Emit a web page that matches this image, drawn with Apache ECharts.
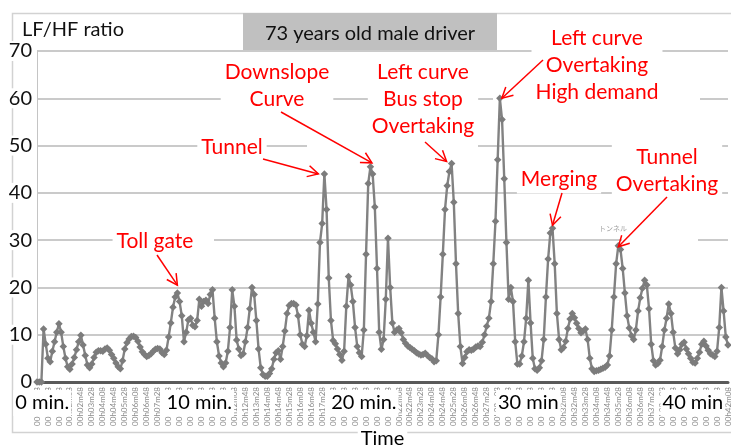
<!DOCTYPE html>
<html><head><meta charset="utf-8">
<script src="https://cdn.jsdelivr.net/npm/echarts@6/dist/echarts.min.js"></script>
<style>html,body{margin:0;padding:0;background:#fff}#c{width:731px;height:446px}</style>
</head><body><div id="c"></div>
<script>
// sampling of the time axis (seconds)
const startSec = 8;
const stepSec = 8;

// LF/HF ratio values, one per 8 s sample
const lfhf = [
  0,0,0,11.2,8.0,5.0,4.3,6.5,8.5,10.5,
  12.3,10.5,7.5,5.0,3.2,2.7,3.8,5.2,6.8,8.5,
  9.9,7.8,5.6,3.6,3.0,3.8,5.2,6.3,6.6,6.6,
  6.5,7.0,7.2,6.7,5.8,5.0,4.0,3.2,2.8,4.5,
  7.0,8.3,9.1,9.6,9.7,9.4,8.6,7.4,6.4,5.8,
  5.4,5.6,6.0,6.5,6.9,7.1,7.0,6.2,5.8,6.7,
  9.5,12.5,15.8,18.0,18.8,17.0,14.0,8.5,10.5,13.1,
  13.5,12.0,11.7,13.0,17.5,16.0,17.0,17.3,16.6,18.5,
  19.5,13.5,8.5,5.5,4.0,3.2,4.0,6.5,11.5,19.5,
  16.0,8.9,7.0,5.6,6.0,8.5,11.5,15.5,20.0,18.5,
  13.0,7.0,3.0,1.6,1.2,1.2,1.8,2.8,4.8,6.2,
  6.6,4.8,7.5,10.8,14.5,16.2,16.6,16.6,16.3,14.0,
  10.0,8.0,7.5,9.8,15.2,12.4,10.5,8.5,16.5,29.5,
  33.5,44.0,36.5,22.0,13.0,8.8,8.1,7.0,5.8,4.6,
  6.5,16.0,22.3,20.5,17.0,11.5,7.5,6.2,5.4,11.0,
  27.0,42.0,45.5,44.0,37.0,24.0,10.5,6.9,9.0,17.5,
  30.4,20.0,12.5,10.5,11.0,11.3,10.4,9.0,8.2,7.6,
  7.3,6.9,6.6,6.2,5.9,5.7,5.8,6.1,5.6,5.2,
  4.9,4.3,4.5,10.0,18.0,27.0,36.5,41.5,44.5,46.2,
  38.0,25.0,14.5,7.5,3.9,5.2,6.4,6.8,6.7,6.9,
  7.4,7.6,7.5,8.4,10.0,11.8,13.5,17.0,25.0,34.0,
  47.0,60.0,55.5,43.0,29.5,17.5,20.0,17.0,8.5,3.8,
  3.8,5.5,8.5,13.5,21.5,12.5,5.0,2.8,2.5,3.0,
  4.5,9.0,18.0,26.0,31.5,32.5,25.0,14.5,9.0,6.8,
  7.3,8.6,11.3,13.3,14.5,13.6,12.4,11.3,10.4,10.8,
  11.2,9.0,5.0,2.8,2.2,2.4,2.5,2.7,2.9,3.1,
  3.6,5.5,11.0,18.0,25.0,28.8,28.0,24.0,18.8,14.0,
  11.4,9.8,9.0,11.0,15.0,17.8,19.8,21.5,20.5,15.5,
  8.0,4.5,3.6,3.9,4.6,7.5,11.0,13.5,16.5,14.5,
  10.5,7.2,6.0,6.8,8.0,8.4,7.0,6.0,5.0,4.2,
  4.0,5.0,6.3,8.0,8.6,7.6,6.7,6.0,5.7,5.4,
  6.5,11.5,20.0,15.0,9.5,7.8
];

// y-axis ticks
const yMin = 0, yMax = 70, yStep = 10;

// big minute tick labels on the time axis
const minuteTickValues = [0.45, 10, 20, 30, 40];
const minuteTickLabels = ['0 min.', '10 min.', '20 min.', '30 min', '40 min'];

// annotations: text lines and the sample index they point at
const annotLines = [
  ['Toll gate'],
  ['Tunnel'],
  ['Downslope', 'Curve'],
  ['Left curve', 'Bus stop', 'Overtaking'],
  ['Left curve', 'Overtaking', 'High demand'],
  ['Merging'],
  ['Tunnel', 'Overtaking']
];
const annotIndex = [64, 131, 152, 189, 211, 235, 265];

const titleText = '73 years old male driver';
const yTitle = 'LF/HF ratio';
const xTitle = 'Time';

// ---------- layout (pixels) ----------
const annotTextPos = [[155,241],[232,147],[277,86],[423,99],[597,65],[559,179],[667,171]];
const annotArrowStart = [[157,255],[263,159],[281,112],[425,142],[543,60],[562,193],[667,197]];
const annotTipOffset = [[0,-8],[-6,0],[1.5,-4],[-5,-2],[2,0],[0,-3],[0,1]];
// white patches of the original slide that hide parts of gridlines
const whitePatches = [[197,234,17,12],[307,139,171,12],[622,232,76,16],[493,91,207,12]];

function fmtTime(s) {
  const m = Math.floor(s / 60), ss = s % 60;
  return '00h' + String(m).padStart(2, '0') + 'm' + String(ss).padStart(2, '0');
}
const categories = lfhf.map((_, i) => fmtTime(startSec + i * stepSec));

const FONT = 'Lato, "Open Sans", sans-serif';
const chart = echarts.init(document.getElementById('c'), null, { renderer: 'canvas' });

const option = {
  animation: false,
  backgroundColor: '#fff',
  grid: { left: 37, right: 3, top: 51, bottom: 64, containLabel: false, outerBoundsMode: 'none' },
  xAxis: [
    {
      type: 'category', data: categories, boundaryGap: false, position: 'bottom',
      axisLine: { show: true, lineStyle: { color: '#5a5a5a', width: 3 } },
      axisTick: { show: false },
      axisLabel: {
        interval: (i) => i % 5 === 0, rotate: 90, fontSize: 8, color: '#8c8c8c',
        margin: 5, fontFamily: FONT
      },
      splitLine: { show: false }
    },
    {
      type: 'value', position: 'bottom',
      min: startSec / 60, max: (startSec + (lfhf.length - 1) * stepSec) / 60,
      axisLine: { show: false }, axisTick: { show: false }, splitLine: { show: false },
      axisLabel: {
        customValues: minuteTickValues,
        formatter: (v) => { const k = minuteTickValues.indexOf(v); return k >= 0 ? minuteTickLabels[k] : ''; },
        fontSize: 20, color: '#000', fontFamily: FONT,
        backgroundColor: '#fff', padding: [3, 2, 3, 2], margin: 8
      },
      name: xTitle, nameLocation: 'middle', nameGap: 47,
      nameTextStyle: { fontSize: 20, color: '#000', fontFamily: FONT, backgroundColor: '#fff', padding: [0, 3] },
      z: 6
    }
  ],
  yAxis: {
    type: 'value', min: yMin, max: yMax, interval: yStep,
    axisLine: { show: true, lineStyle: { color: '#c4c4c4', width: 1 } },
    axisTick: { show: false },
    axisLabel: { fontSize: 20, color: '#111', margin: 4, fontFamily: FONT, backgroundColor: '#fff', padding: [0, 1] },
    splitLine: { show: true, lineStyle: { color: '#b9b9b9', width: 1.5 } }
  },
  series: [{
    type: 'line', xAxisIndex: 0, yAxisIndex: 0, data: lfhf,
    symbol: 'diamond', symbolSize: 7.5, showAllSymbol: true,
    lineStyle: { color: '#828282', width: 2.4 },
    itemStyle: { color: '#7c7c7c' },
    z: 3
  }]
};
chart.setOption(option);

// ---------- graphics: frame, title, annotations ----------
const g = [];
g.push({ type: 'rect', z: -10, shape: { x: 12.5, y: 13.5, width: 740, height: 419 },
  style: { fill: null, stroke: '#d2d2d2', lineWidth: 1.5 }, silent: true });
whitePatches.forEach((r) => g.push({ type: 'rect', z: 1, silent: true,
  shape: { x: r[0], y: r[1], width: r[2], height: r[3] }, style: { fill: '#fff' } }));
g.push({ type: 'rect', z: 51, shape: { x: 243, y: 13, width: 254, height: 37 },
  style: { fill: '#c0c0c0' }, silent: true });
g.push({ type: 'text', z: 52, x: 370, y: 34,
  style: { text: titleText, font: '20px ' + FONT, fill: '#111', align: 'center', verticalAlign: 'middle' } });
g.push({ type: 'text', z: 52, x: 22, y: 30,
  style: { text: yTitle, font: '20px ' + FONT, fill: '#111', align: 'left', verticalAlign: 'middle' } });
g.push({ type: 'text', z: 52, x: 613, y: 228,
  style: { text: 'トンネル', font: '7px "Noto Sans CJK JP"', fill: '#a0a0a0', align: 'center', verticalAlign: 'middle' } });

annotLines.forEach((lines, k) => {
  const idx = annotIndex[k];
  const p = chart.convertToPixel({ xAxisIndex: 0, yAxisIndex: 0 }, [idx, lfhf[idx]]);
  const tx = p[0] + annotTipOffset[k][0], ty = p[1] + annotTipOffset[k][1];
  const sx = annotArrowStart[k][0], sy = annotArrowStart[k][1];
  g.push({ type: 'text', z: 60, x: annotTextPos[k][0], y: annotTextPos[k][1],
    style: { text: lines.join('\n'), font: '21px ' + FONT, fill: '#ff0000', align: 'center',
      verticalAlign: 'middle', lineHeight: 27, backgroundColor: '#fff', padding: [1, 4] } });
  g.push({ type: 'line', z: 61, shape: { x1: sx, y1: sy, x2: tx, y2: ty },
    style: { stroke: '#ff0000', lineWidth: 1.5 } });
  let dx = sx - tx, dy = sy - ty; const L = Math.hypot(dx, dy); dx /= L; dy /= L;
  const a = 28 * Math.PI / 180, len = 12;
  const r1 = [dx * Math.cos(a) - dy * Math.sin(a), dx * Math.sin(a) + dy * Math.cos(a)];
  const r2 = [dx * Math.cos(-a) - dy * Math.sin(-a), dx * Math.sin(-a) + dy * Math.cos(-a)];
  g.push({ type: 'polyline', z: 61, shape: { points: [[tx + r1[0] * len, ty + r1[1] * len], [tx, ty], [tx + r2[0] * len, ty + r2[1] * len]] },
    style: { stroke: '#ff0000', lineWidth: 1.5, fill: null } });
});
chart.setOption({ graphic: g });
</script>
</body></html>
